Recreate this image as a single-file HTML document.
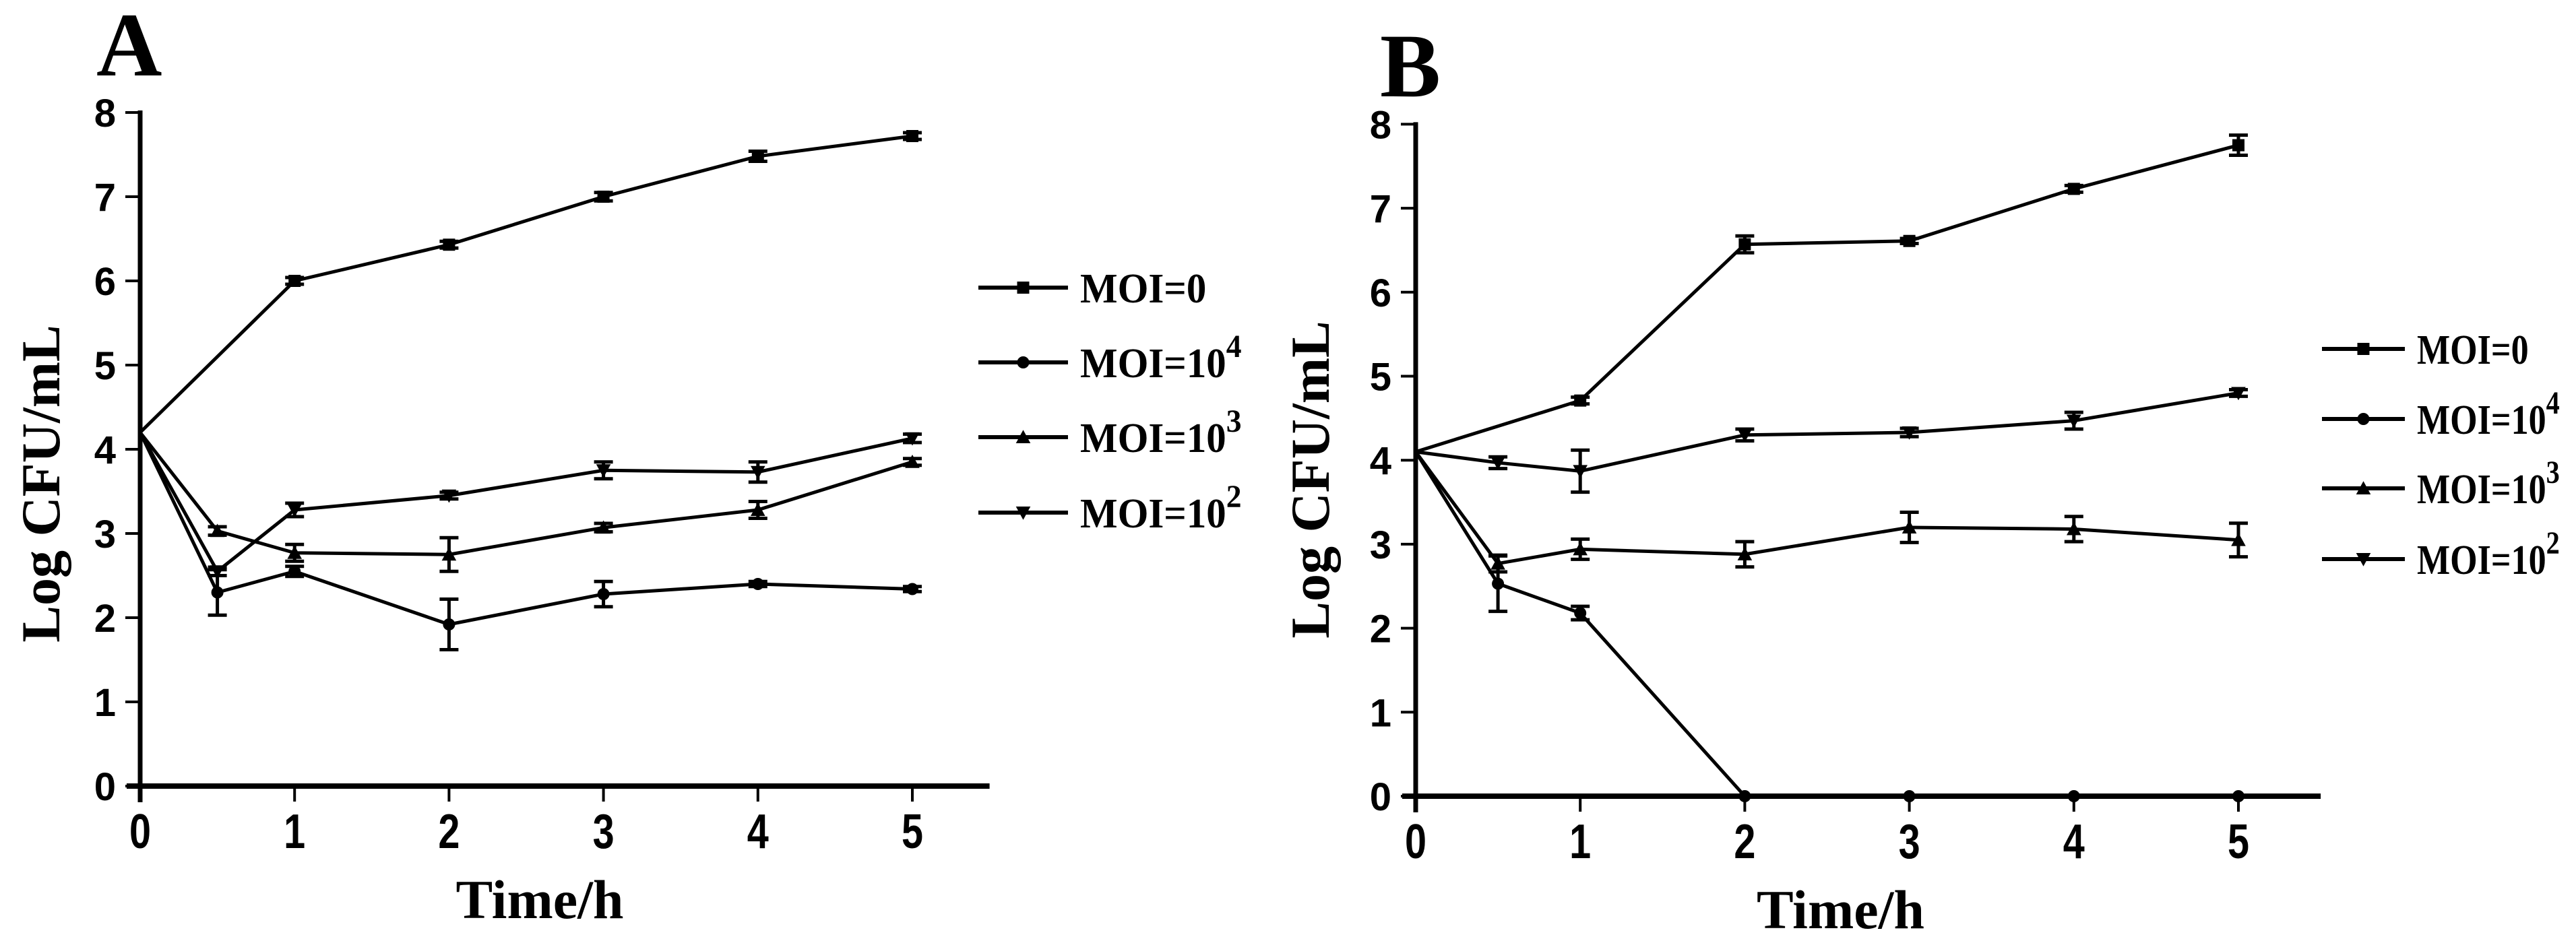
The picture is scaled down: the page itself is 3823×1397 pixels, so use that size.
<!DOCTYPE html>
<html><head><meta charset="utf-8"><style>
html,body{margin:0;padding:0;background:#fff}
svg{display:block}
.tk{font-family:"Liberation Sans",sans-serif;font-weight:bold;fill:#000}
.sf{font-family:"Liberation Serif",serif;font-weight:bold;fill:#000}
</style></head><body>
<svg id="chart" width="3823" height="1397" viewBox="0 0 3823 1397" xmlns="http://www.w3.org/2000/svg"></svg>
<script>
const times = [0, 0.5, 1, 2, 3, 4, 5];
const seriesNames = ['MOI=0', 'MOI=10^4', 'MOI=10^3', 'MOI=10^2'];
const xTicks = [0, 1, 2, 3, 4, 5];
const yTicks = [0, 1, 2, 3, 4, 5, 6, 7, 8];
// Panel A
const aMoi0 = [4.2, null, 6.0, 6.43, 7.0, 7.48, 7.72];
const aMoi0Err = [0, 0, 0.04, 0.04, 0.05, 0.06, 0.04];
const aMoi4 = [4.2, 2.3, 2.55, 1.92, 2.28, 2.4, 2.34];
const aMoi4Err = [0, 0.27, 0.06, 0.3, 0.15, 0.03, 0.03];
const aMoi3 = [4.2, 3.03, 2.77, 2.75, 3.07, 3.28, 3.85];
const aMoi3Err = [0, 0.05, 0.1, 0.2, 0.05, 0.1, 0.04];
const aMoi2 = [4.2, 2.55, 3.28, 3.45, 3.75, 3.73, 4.13];
const aMoi2Err = [0, 0.05, 0.08, 0.04, 0.1, 0.12, 0.05];
// Panel B
const bMoi0 = [4.1, null, 4.71, 6.57, 6.61, 7.23, 7.75];
const bMoi0Err = [0, 0, 0.04, 0.1, 0.03, 0.04, 0.12];
const bMoi4 = [4.1, 2.53, 2.18, 0, 0, 0, 0];
const bMoi4Err = [0, 0.33, 0.08, 0, 0, 0, 0];
const bMoi3 = [4.1, 2.77, 2.94, 2.88, 3.2, 3.18, 3.05];
const bMoi3Err = [0, 0.1, 0.12, 0.15, 0.18, 0.15, 0.2];
const bMoi2 = [4.1, 3.97, 3.87, 4.3, 4.33, 4.47, 4.8];
const bMoi2Err = [0, 0.07, 0.25, 0.07, 0.05, 0.1, 0.04];

const NS = 'http://www.w3.org/2000/svg';
const svg = document.getElementById('chart');
function mk(tag, attrs, parent) {
  const e = document.createElementNS(NS, tag);
  for (const k in attrs) e.setAttribute(k, attrs[k]);
  (parent || svg).appendChild(e);
  return e;
}
const markers = ['square', 'circle', 'up', 'down'];
function drawMarker(g, type, x, y, s) {
  let m;
  if (type === 'square') m = mk('rect', {x: x - s, y: y - s, width: 2 * s, height: 2 * s, fill: '#000'}, g);
  else if (type === 'circle') m = mk('circle', {cx: x, cy: y, r: s, fill: '#000'}, g);
  else if (type === 'up') m = mk('polygon', {points: `${x},${y - s * 1.2} ${x - s * 1.2},${y + s} ${x + s * 1.2},${y + s}`, fill: '#000'}, g);
  else m = mk('polygon', {points: `${x},${y + s * 1.2} ${x - s * 1.2},${y - s} ${x + s * 1.2},${y - s}`, fill: '#000'}, g);
  return m;
}
function panel(cfg) {
  const X = t => cfg.x0 + t * cfg.xu;
  const Y = v => cfg.y0 - v * cfg.yu;
  const g = mk('g', {});
  
  
  const L = mk('text', {x: cfg.letterX, y: cfg.letterY, class: 'sf', 'font-size': 135}, g);
  L.textContent = cfg.letter;
  
  
  const ya = mk('line', {x1: cfg.x0, y1: Y(8) - 3, x2: cfg.x0, y2: cfg.y0 + 24, stroke: '#000', 'stroke-width': 7}, g);
  
  
  const xa = mk('line', {x1: cfg.x0 - 20, y1: cfg.y0, x2: X(5.5), y2: cfg.y0, stroke: '#000', 'stroke-width': 8}, g);
  
  
  yTicks.forEach(v => {
    mk('line', {x1: cfg.x0 - 22, y1: Y(v), x2: cfg.x0, y2: Y(v), stroke: '#000', 'stroke-width': 4}, g);
    const t = mk('text', {x: cfg.x0 - 36, y: Y(v) + 21, class: 'tk', 'font-size': 58, 'text-anchor': 'end'}, g);
    t.textContent = v;
    
    
  });
  xTicks.forEach(v => {
    mk('line', {x1: X(v), y1: cfg.y0, x2: X(v), y2: cfg.y0 + 23, stroke: '#000', 'stroke-width': 4}, g);
    const t = mk('text', {x: X(v), y: cfg.y0 + 92, class: 'tk', 'font-size': 72, 'text-anchor': 'middle', transform: `translate(${X(v)},0) scale(0.8,1) translate(${-X(v)},0)`}, g);
    t.textContent = v;
    
    
  });
  const xt = mk('text', {x: (X(0) + X(5)) / 2 + 20, y: cfg.y0 + 196, class: 'sf', 'font-size': 82, 'text-anchor': 'middle'}, g);
  xt.textContent = 'Time/h';
  
  
  const yt = mk('text', {x: 0, y: 0, class: 'sf', 'font-size': 82, 'text-anchor': 'middle', transform: `translate(${cfg.ylabX},${cfg.ylabY}) rotate(-90)`}, g);
  yt.textContent = 'Log CFU/mL';
  
  
  cfg.series.forEach((vals, si) => {
    const err = cfg.errs[si];
    const sg = mk('g', {}, g);
    
    
    const pts = [];
    times.forEach((t, i) => { if (vals[i] !== null) pts.push([X(t), Y(vals[i])]); });
    mk('polyline', {points: pts.map(p => p.join(',')).join(' '), fill: 'none', stroke: '#000', 'stroke-width': 5, 'stroke-linejoin': 'round'}, sg);
    times.forEach((t, i) => {
      if (vals[i] === null) return;
      const e = err[i];
      if (e > 0) {
        const x = X(t), y1 = Y(vals[i] + e), y2 = Y(vals[i] - e);
        mk('line', {x1: x, y1: y1, x2: x, y2: y2, stroke: '#000', 'stroke-width': 5}, sg);
        mk('line', {x1: x - 14, y1: y1, x2: x + 14, y2: y1, stroke: '#000', 'stroke-width': 5}, sg);
        mk('line', {x1: x - 14, y1: y2, x2: x + 14, y2: y2, stroke: '#000', 'stroke-width': 5}, sg);
      }
      if (t > 0) {
        const m = drawMarker(sg, markers[si], X(t), Y(vals[i]), 9);
        
        
      }
    });
  });
  const lg = mk('g', {}, g);
  
  
  seriesNames.forEach((n, i) => {
    const y = cfg.legY[i];
    const eg = mk('g', {}, lg);
    
    
    mk('line', {x1: cfg.legX, y1: y, x2: cfg.legX + cfg.legW, y2: y, stroke: '#000', 'stroke-width': 6}, eg);
    drawMarker(eg, markers[i], cfg.legX + cfg.legW / 2, y, 9);
    const tx = cfg.legX + cfg.legW + 18;
    const t = mk('text', {x: tx, y: y + 22, class: 'sf', 'font-size': 62, transform: `translate(${tx},0) scale(${cfg.legScale},1) translate(${-tx},0)`}, eg);
    const parts = n.split('^');
    t.textContent = parts[0];
    if (parts[1]) {
      const s = mk('tspan', {dy: -30, 'font-size': 48}, t);
      s.textContent = parts[1];
    }
  });
}
panel({id: 'panel-a', letter: 'A', letterX: 143, letterY: 112, x0: 208, xu: 229.2, y0: 1167, yu: 125,
  ylabX: 88, ylabY: 718, legX: 1452, legW: 133, legScale: 0.95, legY: [427, 538, 649, 761],
  series: [aMoi0, aMoi4, aMoi3, aMoi2], errs: [aMoi0Err, aMoi4Err, aMoi3Err, aMoi2Err]});
panel({id: 'panel-b', letter: 'B', letterX: 2048, letterY: 143, x0: 2101, xu: 244.2, y0: 1182, yu: 124.7,
  ylabX: 1972, ylabY: 712, legX: 3446, legW: 123, legScale: 0.84, legY: [518, 622, 725, 830],
  series: [bMoi0, bMoi4, bMoi3, bMoi2], errs: [bMoi0Err, bMoi4Err, bMoi3Err, bMoi2Err]});
</script>
</body></html>
